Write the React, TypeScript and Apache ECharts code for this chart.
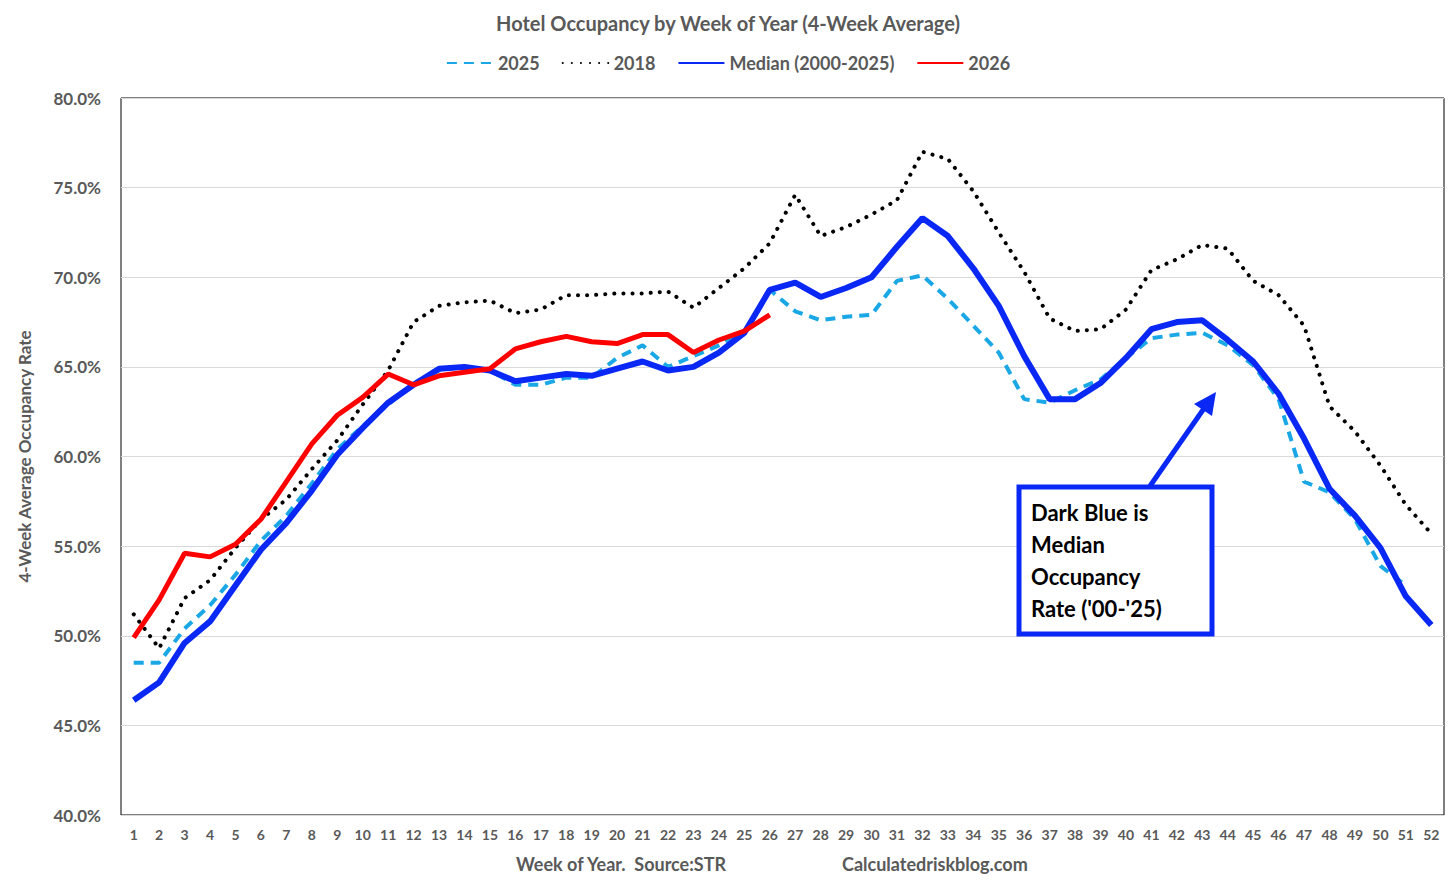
import React, { useEffect, useRef } from "react";
import * as echarts from "echarts";

const weeks = Array.from({ length: 52 }, (_, i) => String(i + 1));

// 4-week average occupancy, percent
const y2025 = [48.5, 48.5, 50.4, 51.7, 53.4, 55.3, 56.7, 58.5, 60.4, 61.7, 62.9, 64.1, 64.8, 65.0, 64.8, 64.0, 64.0, 64.4, 64.4, 65.5, 66.2, 65.0, 65.6, 66.2, 66.9, 69.3, 68.1, 67.6, 67.8, 67.9, 69.8, 70.1, 68.8, 67.3, 65.8, 63.2, 63.0, 63.7, 64.3, 65.5, 66.6, 66.8, 66.9, 66.2, 65.1, 63.2, 58.6, 58.0, 56.5, 53.9, 52.8, null];
const y2018 = [51.2, 49.3, 52.1, 53.1, 54.9, 56.5, 57.6, 59.3, 60.9, 62.9, 64.8, 67.5, 68.4, 68.6, 68.7, 68.0, 68.2, 69.0, 69.0, 69.1, 69.1, 69.2, 68.3, 69.4, 70.5, 71.9, 74.6, 72.3, 72.8, 73.5, 74.3, 77.0, 76.6, 74.8, 72.5, 70.3, 67.7, 67.0, 67.1, 68.2, 70.4, 71.0, 71.8, 71.6, 69.8, 69.0, 67.3, 62.8, 61.4, 59.5, 57.3, 55.7];
const median = [46.4, 47.4, 49.6, 50.8, 52.8, 54.8, 56.3, 58.1, 60.1, 61.6, 63.0, 64.0, 64.9, 65.0, 64.8, 64.2, 64.4, 64.6, 64.5, 64.9, 65.3, 64.8, 65.0, 65.8, 66.9, 69.3, 69.7, 68.9, 69.4, 70.0, 71.7, 73.3, 72.3, 70.5, 68.4, 65.6, 63.2, 63.2, 64.1, 65.5, 67.1, 67.5, 67.6, 66.5, 65.3, 63.5, 61.0, 58.2, 56.7, 54.9, 52.2, 50.6];
const y2026 = [49.9, 52.0, 54.6, 54.4, 55.1, 56.5, 58.6, 60.7, 62.3, 63.3, 64.6, 64.0, 64.5, 64.7, 64.9, 66.0, 66.4, 66.7, 66.4, 66.3, 66.8, 66.8, 65.8, 66.5, 67.0, 67.9];

const FONT = "Lato, 'Open Sans', sans-serif";
const GREY = "#595959";

const App: React.FC = () => {
  const ref = useRef<HTMLDivElement>(null);

  useEffect(() => {
    if (!ref.current) return;
    const chart = echarts.init(ref.current, undefined, { renderer: "svg" });
    chart.setOption({
      animation: false,
      textStyle: { fontFamily: FONT },
      title: {
        text: "Hotel Occupancy by Week of Year (4-Week Average)",
        left: "center",
        top: 0,
        textStyle: { fontSize: 20, fontWeight: "bold", color: GREY, fontFamily: FONT },
      },
      legend: {
        top: 41,
        left: "center",
        itemWidth: 46,
        itemHeight: 12,
        itemGap: 22,
        itemStyle: { opacity: 0 },
        textStyle: { fontSize: 18, fontWeight: "bold", color: GREY },
        data: ["2025", "2018", "Median (2000-2025)", "2026"],
      },
      grid: { left: 107, right: 4, top: 90, bottom: 61, show: true, borderColor: "#000", borderWidth: 1 },
      xAxis: {
        type: "category",
        data: weeks,
        axisTick: { show: false },
        axisLine: { lineStyle: { color: "#d9d9d9" } },
        axisLabel: { fontSize: 14, fontWeight: "bold", color: GREY, margin: 12, interval: 0 },
      },
      yAxis: {
        type: "value",
        min: 40,
        max: 80,
        interval: 5,
        name: "4-Week Average Occupancy Rate",
        nameLocation: "middle",
        nameGap: 88,
        nameTextStyle: { fontSize: 17, fontWeight: "bold", color: GREY },
        axisLine: { show: false },
        axisTick: { show: false },
        splitLine: { lineStyle: { color: "#d9d9d9" } },
        axisLabel: { formatter: (v: number) => v.toFixed(1) + "%", fontSize: 17, fontWeight: "bold", color: GREY, margin: 20 },
      },
      series: [
        { name: "2025", type: "line", data: y2025, symbol: "none", z: 2, lineStyle: { color: "#1AA7E6", width: 4, type: [10, 7] }, itemStyle: { color: "#1AA7E6" } },
        { name: "2018", type: "line", data: y2018, symbol: "none", z: 1, lineStyle: { color: "#000", width: 4, type: [0.1, 9], cap: "round" }, itemStyle: { color: "#000" } },
        { name: "Median (2000-2025)", type: "line", data: median, symbol: "none", z: 3, lineStyle: { color: "#0A28F5", width: 6 }, itemStyle: { color: "#0A28F5" } },
        { name: "2026", type: "line", data: y2026, symbol: "none", z: 4, lineStyle: { color: "#FF0000", width: 5 }, itemStyle: { color: "#FF0000" } },
      ],
      graphic: [
        { type: "text", left: 508, top: 847, style: { text: "Week of Year.  Source:STR", fontSize: 18, fontWeight: "bold", fill: GREY, fontFamily: FONT } },
        { type: "text", left: 834, top: 847, style: { text: "Calculatedriskblog.com", fontSize: 18, fontWeight: "bold", fill: GREY, fontFamily: FONT } },
        { type: "line", z: 10, shape: { x1: 1142, y1: 478, x2: 1197, y2: 399 }, style: { stroke: "#0A28F5", lineWidth: 5 } },
        { type: "polygon", z: 10, shape: { points: [[1208, 384], [1186, 396], [1204, 408]] }, style: { fill: "#0A28F5" } },
        { type: "rect", z: 10, shape: { x: 1011, y: 479, width: 193, height: 147 }, style: { fill: "#fff", stroke: "#0A28F5", lineWidth: 5 } },
        { type: "text", z: 11, left: 1023, top: 488, style: { text: "Dark Blue is\nMedian\nOccupancy\nRate ('00-'25)", fontSize: 22, lineHeight: 32, fontWeight: "bold", fill: "#000", fontFamily: FONT } },
      ],
    });
    return () => chart.dispose();
  }, []);

  return <div ref={ref} style={{ width: 1440, height: 868 }} />;
};

export default App;
